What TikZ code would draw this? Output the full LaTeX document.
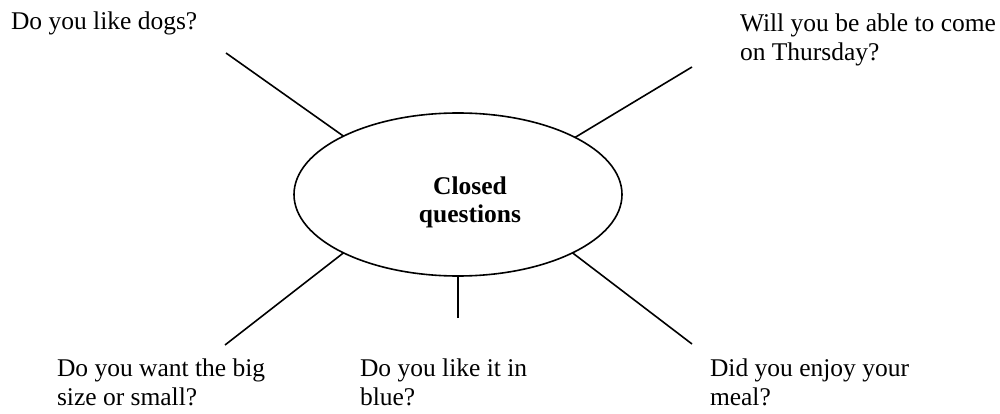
\documentclass[tikz,border=0pt]{standalone}
\usepackage{fontspec}
\setmainfont{Liberation Serif}
\usetikzlibrary{shapes.geometric}

\begin{document}
\begin{tikzpicture}[x=1pt,y=-1pt,
  every node/.style={inner sep=0pt, outer sep=0pt},
  question/.style={anchor=base west, align=left,
    font=\fontsize{25.5}{29}\selectfont},
  hub/.style={ellipse, draw, line width=1.6pt,
    minimum width=328pt, minimum height=163pt},
  spoke/.style={line width=1.6pt}]
  \useasboundingbox (0,0) rectangle (1000,414);

  % central topic
  \node[hub] (ell) at (458,194.5) {};
  \node[align=center, font=\fontsize{25.5}{28}\selectfont\bfseries,
        anchor=base] (topic) at (470,222) {Closed\\questions};

  % questions around it
  \node[question] (q1) at (11,30) {Do you like dogs?};
  \node[question] (q2) at (740,61) {Will you be able to come\\on Thursday?};
  \node[question] (q3) at (57,405) {Do you want the big\\size or small?};
  \node[question] (q4) at (360,405) {Do you like it in\\blue?};
  \node[question] (q5) at (710,405) {Did you enjoy your\\meal?};

  % free ends of the spokes
  \coordinate (tl) at (226,53);
  \coordinate (tr) at (692,67);
  \coordinate (bl) at (225,345);
  \coordinate (bm) at (458,318);
  \coordinate (br) at (692,344);

  \draw[spoke] (tl) -- (ell.153.4);
  \draw[spoke] (tr) -- (ell.26.4);
  \draw[spoke] (bl) -- (ell.207);
  \draw[spoke] (bm) -- (ell.south);
  \draw[spoke] (br) -- (ell.333.4);
\end{tikzpicture}
\end{document}
